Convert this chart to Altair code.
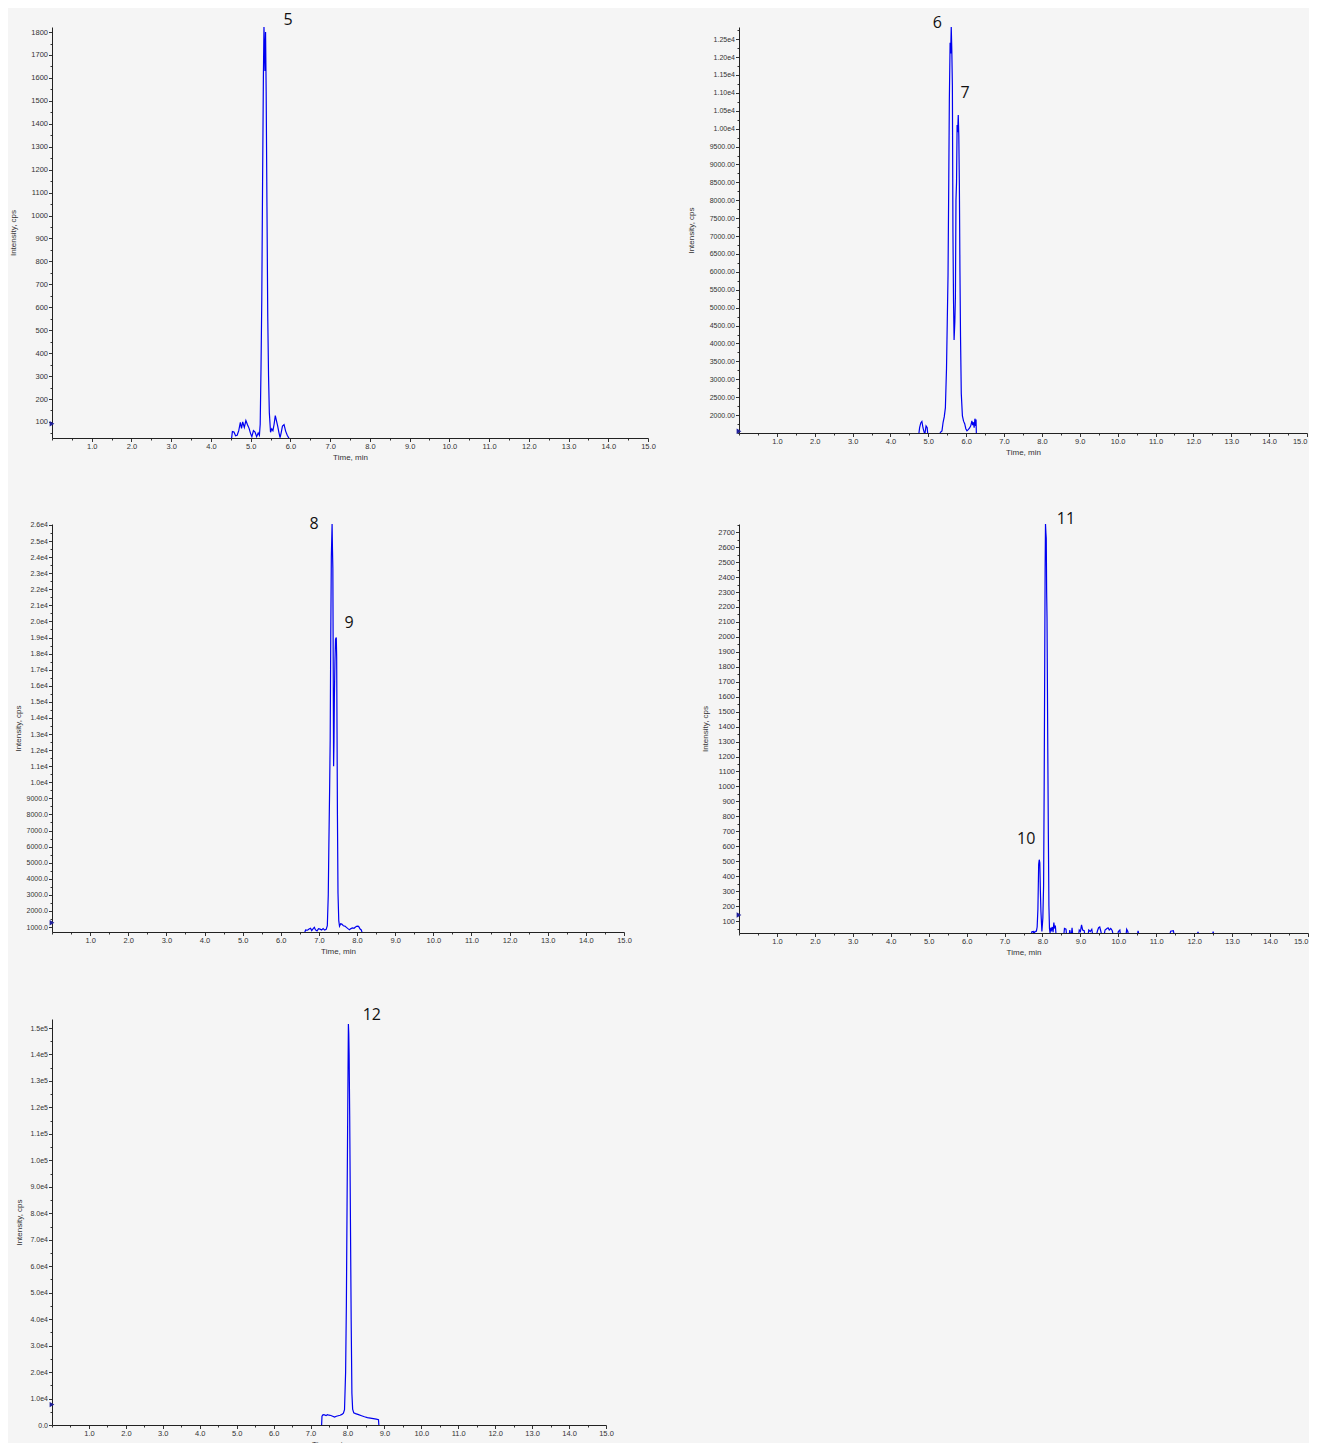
import json
import altair as alt
import pandas as pd

BLUE = "#0000f0"
FONT = "Liberation Sans"

# ---------------- x axis (shared) ----------------
X_ALL = [i * 0.5 for i in range(31)]
X_MAJOR = [float(i) for i in range(1, 16)]
X_LABELS = ["1.0", "2.0", "3.0", "4.0", "5.0", "6.0", "7.0", "8.0", "9.0", "10.0",
            "11.0", "12.0", "13.0", "14.0", "15.0"]

# ---------------- panel 1 (peak 5) ----------------
P1_T = [4.50, 4.54, 4.58, 4.62, 4.66, 4.70, 4.74, 4.77, 4.80, 4.84,
        4.88, 4.92, 4.96, 5.00, 5.03, 5.07, 5.11, 5.15, 5.19, 5.22,
        5.24, 5.26, 5.28, 5.30, 5.32, 5.335, 5.35, 5.36, 5.375, 5.39,
        5.41, 5.43, 5.45, 5.47, 5.50, 5.53, 5.56, 5.59, 5.62, 5.65,
        5.68, 5.71, 5.74, 5.77, 5.80, 5.84, 5.88, 5.92, 5.96, 6.00]
P1_V = [0, 58, 56, 40, 42, 62, 98, 72, 100, 76,
        106, 88, 72, 48, 36, 62, 56, 36, 52, 42,
        90, 330, 640, 1150, 1600, 1822, 1700, 1630, 1800, 1540,
        1040, 560, 300, 140, 55, 70, 62, 90, 128, 105,
        82, 55, 32, 55, 82, 88, 60, 42, 30, 0]
P1_Y_ALL = list(range(50, 1801, 50))
P1_Y_MAJOR = list(range(100, 1801, 100))
P1_Y_LABELS = ["100", "200", "300", "400", "500", "600", "700", "800", "900", "1000",
               "1100", "1200", "1300", "1400", "1500", "1600", "1700", "1800"]
P1_ANN_LAB, P1_ANN_T, P1_ANN_V = ["5"], [5.94], [1852]

# ---------------- panel 2 (peaks 6, 7) ----------------
P2_T = [4.74, 4.77, 4.80, 4.83, 4.86, 4.89, 4.91, 4.94, 4.97, 4.99,
        5.28, 5.32, 5.36, 5.39, 5.42, 5.45, 5.48, 5.50, 5.52, 5.54,
        5.555, 5.575, 5.59, 5.605, 5.62, 5.635, 5.65, 5.665, 5.68, 5.70,
        5.715, 5.73, 5.745, 5.76, 5.775, 5.79, 5.805, 5.82, 5.835, 5.85,
        5.87, 5.90, 5.93, 5.96, 5.99, 6.02, 6.06, 6.09, 6.12, 6.15,
        6.17, 6.19, 6.21, 6.23, 6.25, 6.26, 6.27]
P2_V = [1400, 1650, 1780, 1820, 1640, 1520, 1480, 1700, 1650, 1400,
        1400, 1520, 1560, 1800, 1950, 2200, 3300, 4600, 5900, 8600,
        10800, 12400, 12100, 12840, 12200, 11200, 7100, 5200, 4100, 4600,
        5300, 8000, 8500, 10100, 9900, 10380, 9800, 8400, 6000, 4200,
        2600, 1980, 1830, 1760, 1620, 1560, 1600, 1640, 1700, 1840,
        1720, 1800, 1650, 1900, 1700, 1880, 1400]
P2_Y_ALL = list(range(1500, 12751, 250))
P2_Y_MAJOR = list(range(2000, 12501, 500))
P2_Y_LABELS = ["2000.00", "2500.00", "3000.00", "3500.00", "4000.00", "4500.00",
               "5000.00", "5500.00", "6000.00", "6500.00", "7000.00", "7500.00",
               "8000.00", "8500.00", "9000.00", "9500.00", "1.00e4", "1.05e4",
               "1.10e4", "1.15e4", "1.20e4", "1.25e4"]
P2_ANN_LAB, P2_ANN_T, P2_ANN_V = ["6", "7"], [5.24, 5.97], [12950, 10996]

# ---------------- panel 3 (peaks 8, 9) ----------------
P3_T = [6.62, 6.65, 6.70, 6.74, 6.78, 6.81, 6.85, 6.88, 6.91, 6.95,
        6.99, 7.03, 7.07, 7.11, 7.15, 7.19, 7.22, 7.245, 7.26, 7.28,
        7.295, 7.31, 7.325, 7.345, 7.355, 7.365, 7.375, 7.385, 7.395, 7.405,
        7.42, 7.435, 7.455, 7.465, 7.475, 7.485, 7.50, 7.52, 7.54, 7.57,
        7.60, 7.64, 7.68, 7.72, 7.76, 7.80, 7.84, 7.88, 7.92, 7.96,
        8.00, 8.04, 8.08, 8.11, 8.14]
P3_V = [600, 820, 800, 880, 920, 780, 900, 980, 820, 760,
        900, 870, 820, 900, 810, 850, 1080, 3000, 6000, 9500,
        12600, 19000, 24000, 26060, 24500, 23300, 17000, 11000, 12500, 15300,
        17500, 18900, 19000, 17800, 13000, 8000, 3100, 1400, 1050, 1200,
        1180, 1080, 1060, 980, 900, 830, 900, 950, 920, 1000,
        1060, 1040, 870, 820, 600]
P3_Y_ALL = list(range(1000, 26001, 500))
P3_Y_MAJOR = list(range(1000, 26001, 1000))
P3_Y_LABELS = ["1000.0", "2000.0", "3000.0", "4000.0", "5000.0", "6000.0", "7000.0",
               "8000.0", "9000.0", "1.0e4", "1.1e4", "1.2e4", "1.3e4", "1.4e4",
               "1.5e4", "1.6e4", "1.7e4", "1.8e4", "1.9e4", "2.0e4", "2.1e4",
               "2.2e4", "2.3e4", "2.4e4", "2.5e4", "2.6e4"]
P3_ANN_LAB, P3_ANN_T, P3_ANN_V = ["8", "9"], [6.87, 7.79], [26062, 19905]

# ---------------- panel 4 (peaks 10, 11) ----------------
P4_T = [7.70, 7.72, 7.76, 7.78, 7.80, 7.84, 7.86, 7.88, 7.90, 7.915,
        7.93, 7.945, 7.96, 7.985, 8.01, 8.03, 8.045, 8.06, 8.07, 8.08,
        8.09, 8.10, 8.11, 8.12, 8.13, 8.14, 8.155, 8.17, 8.185, 8.20,
        8.22, 8.24, 8.26, 8.28, 8.30, 8.32, 8.34, 8.36,
        8.56, 8.58, 8.62, 8.64, 8.70, 8.72, 8.75, 8.76, 8.78, 8.80,
        8.95, 8.97, 9.00, 9.03, 9.06, 9.10, 9.12, 9.20, 9.22, 9.26,
        9.30, 9.33, 9.42, 9.45, 9.48, 9.51, 9.54, 9.57, 9.62, 9.65,
        9.70, 9.73, 9.76, 9.80, 9.84, 9.87, 9.98, 10.00, 10.04, 10.06,
        10.20, 10.22, 10.25, 10.27, 10.50, 10.52, 10.55, 11.35, 11.38, 11.45,
        11.48, 12.08, 12.10, 12.12, 12.48, 12.50, 12.52]
P4_V = [0, 28, 30, 0, 30, 32, 60, 180, 480, 510,
        490, 300, 160, 30, 120, 340, 1000, 1860, 2450, 2755,
        2700, 2660, 2300, 2130, 1700, 1260, 680, 200, 50, 20,
        55, 40, 60, 25, 90, 50, 70, 0,
        0, 50, 45, 0, 0, 40, 0, 0, 55, 0,
        0, 40, 30, 75, 40, 35, 0, 0, 40, 30,
        45, 0, 0, 35, 55, 60, 30, 0, 0, 40,
        50, 55, 40, 50, 35, 0, 0, 30, 40, 0,
        0, 45, 30, 0, 0, 35, 0, 0, 32, 35,
        0, 0, 28, 0, 0, 30, 0]
P4_Y_ALL = list(range(50, 2751, 50))
P4_Y_MAJOR = list(range(100, 2701, 100))
P4_Y_LABELS = ["100", "200", "300", "400", "500", "600", "700", "800", "900", "1000",
               "1100", "1200", "1300", "1400", "1500", "1600", "1700", "1800", "1900",
               "2000", "2100", "2200", "2300", "2400", "2500", "2600", "2700"]
P4_ANN_LAB, P4_ANN_T, P4_ANN_V = ["10", "11"], [7.57, 8.62], [648, 2787]

# ---------------- panel 5 (peak 12) ----------------
P5_T = [7.30, 7.31, 7.34, 7.38, 7.42, 7.46, 7.50, 7.55, 7.60, 7.65,
        7.70, 7.75, 7.80, 7.85, 7.89, 7.92, 7.95, 7.97, 7.99, 8.00,
        8.015, 8.025, 8.035, 8.045, 8.06, 8.08, 8.10, 8.12, 8.14, 8.17,
        8.22, 8.30, 8.38, 8.46, 8.54, 8.62, 8.70, 8.78, 8.84, 8.85]
P5_V = [0, 3300, 3900, 3800, 3600, 3900, 3700, 3600, 3300, 3000,
        3300, 3500, 3700, 4000, 4500, 5800, 20000, 45000, 85000, 104000,
        133000, 151500, 148000, 140000, 117000, 78000, 40000, 12000, 6000, 4600,
        4300, 3900, 3500, 3100, 2800, 2600, 2400, 2200, 2000, 0]
P5_Y_ALL = list(range(0, 150001, 5000))
P5_Y_MAJOR = list(range(0, 150001, 10000))
P5_Y_LABELS = ["0.0", "1.0e4", "2.0e4", "3.0e4", "4.0e4", "5.0e4", "6.0e4", "7.0e4",
               "8.0e4", "9.0e4", "1.0e5", "1.1e5", "1.2e5", "1.3e5", "1.4e5", "1.5e5"]
P5_ANN_LAB, P5_ANN_T, P5_ANN_V = ["12"], [8.66], [154900]

# start-of-run markers on the y axes
MARKER_V = [92, 1550, 1270, 140, 7700]


def lab_expr(major, labels):
    m = json.dumps(major)
    return "indexof(%s, datum.value) >= 0 ? %s[indexof(%s, datum.value)] : ''" % (
        m, json.dumps(labels), m)


def tick_cond(major):
    return {"condition": {"test": "indexof(%s, datum.value) >= 0" % json.dumps(major),
                          "value": 3.5}, "value": 2}


def panel(t, v, ydom, y_all, y_major, y_labels, width, height,
          ann_lab, ann_t, ann_v, marker_v, ytitle_x, xflush, ylab_size):
    df = pd.DataFrame({"t": t, "v": v})
    xs = alt.Scale(domain=[0, 15], nice=False, zero=False)
    ys = alt.Scale(domain=ydom, nice=False, zero=False)
    xaxis = alt.Axis(values=X_ALL, labelExpr=lab_expr(X_MAJOR, X_LABELS),
                     tickSize=tick_cond(X_MAJOR), title="Time, min", titleY=19,
                     titleBaseline="middle", labelFlush=xflush)
    yaxis = alt.Axis(values=y_all, labelExpr=lab_expr(y_major, y_labels),
                     tickSize=tick_cond(y_major), title="Intensity, cps",
                     titleX=ytitle_x, titleBaseline="middle", labelFontSize=ylab_size)
    x = alt.X("t:Q", scale=xs, axis=xaxis)
    y = alt.Y("v:Q", scale=ys, axis=yaxis)
    line = alt.Chart(df).mark_line(color=BLUE, strokeWidth=1.2, clip=True).encode(x=x, y=y)
    mk = alt.Chart(pd.DataFrame({"t": [0.0], "v": [marker_v]})).mark_point(
        shape="triangle-right", filled=True, size=30, color="#20209a", opacity=1
    ).encode(x=x, y=y)
    txt = alt.Chart(pd.DataFrame({"t": ann_t, "v": ann_v, "lab": ann_lab})).mark_text(
        fontSize=16, font="Open Sans", color="#111"
    ).encode(x=x, y=y, text="lab:N")
    return alt.layer(line, mk, txt).properties(width=width, height=height)


p1 = panel(P1_T, P1_V, [30, 1822], P1_Y_ALL, P1_Y_MAJOR, P1_Y_LABELS, 596, 411,
           P1_ANN_LAB, P1_ANN_T, P1_ANN_V, MARKER_V[0], -39, False, 7.5)
p2 = panel(P2_T, P2_V, [1500, 12840], P2_Y_ALL, P2_Y_MAJOR, P2_Y_LABELS, 568, 406,
           P2_ANN_LAB, P2_ANN_T, P2_ANN_V, MARKER_V[1], -48, True, 7)
p3 = panel(P3_T, P3_V, [690, 26060], P3_Y_ALL, P3_Y_MAJOR, P3_Y_LABELS, 572, 408,
           P3_ANN_LAB, P3_ANN_T, P3_ANN_V, MARKER_V[2], -34, False, 7)
p4 = panel(P4_T, P4_V, [20, 2755], P4_Y_ALL, P4_Y_MAJOR, P4_Y_LABELS, 569, 409,
           P4_ANN_LAB, P4_ANN_T, P4_ANN_V, MARKER_V[3], -34, True, 7.5)
p5 = panel(P5_T, P5_V, [0, 153401], P5_Y_ALL, P5_Y_MAJOR, P5_Y_LABELS, 554, 406,
           P5_ANN_LAB, P5_ANN_T, P5_ANN_V, MARKER_V[4], -33, False, 7)

chart = alt.concat(
    p1, p2, p3, p4, p5, columns=2, spacing={"row": 86, "column": 91}, bounds="flush"
).properties(
    padding={"left": 1, "top": 4, "right": 0, "bottom": 0}
).configure(background="#f5f5f5").configure_view(strokeWidth=0).configure_axis(
    labelFont=FONT, labelFontSize=7.5, labelColor="#333", titleFont=FONT,
    titleFontSize=8, titleFontWeight="normal", titleColor="#333",
    domainColor="#222", tickColor="#333", grid=False, labelOverlap=False,
    labelPadding=1
)

chart.save("out.html", embed_options={"renderer": "svg", "actions": False})
